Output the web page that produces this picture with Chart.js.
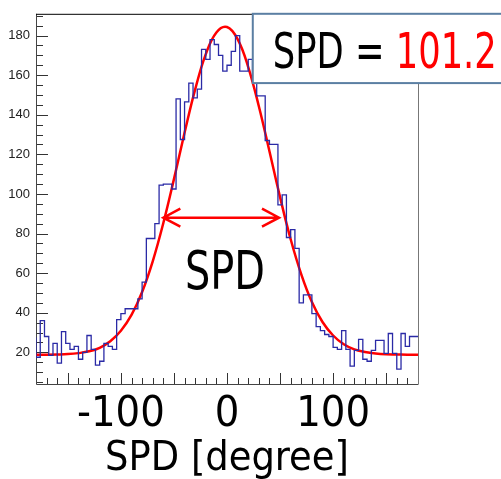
<!DOCTYPE html>
<html>
<head>
<meta charset="utf-8">
<script src="https://cdn.jsdelivr.net/npm/chart.js@4.4.1/dist/chart.umd.min.js"></script>
<style>
  html, body { margin: 0; padding: 0; background: #fff; }
  #wrap { width: 501px; height: 479px; position: relative; }
</style>
</head>
<body>
<div id="wrap"><canvas id="spd"></canvas></div>
<script>
// histogram: 90 bins of 4 degrees from -180 to 180
const binLow = -180;
const binWidth = 4;
const counts = [
  27.5, 17.5, 36, 28, 18.5, 24.5, 14.5, 30.5, 24.5, 21.5,
  23, 16.5, 20, 28.5, 21.5, 13.5, 15.5, 24.5, 23, 21.5,
  36.5, 39.5, 42, 42, 42, 47, 55.5, 77.5, 77.5, 85,
  104.5, 105, 105, 102.5, 148, 127.5, 146.5, 156, 148.5, 153,
  173, 168, 178, 175.5, 170, 162, 165, 172, 180, 162,
  162, 168, 157, 149.5, 149.5, 127, 125, 125, 94.5, 99.5,
  78, 82, 72.5, 45, 49, 49, 39.5, 33, 31, 29,
  28, 22.5, 21.5, 31, 21.5, 13, 21, 26.5, 16.5, 15.5,
  21, 26, 26, 19.5, 29.5, 19.5, 11.5, 29.5, 23, 28
];

// gaussian fit
const fitX = [-180, -170, -160, -150, -140, -130, -120, -110, -100, -90,
  -80, -70, -60, -50, -40, -30, -20, -10, 0, 10,
  20, 30, 40, 50, 60, 70, 80, 90, 100, 110,
  120, 130, 140, 150, 160, 170, 180];
const fitY = [18.8, 18.8, 18.9, 19.1, 19.6, 20.5, 22.3, 25.6, 30.9, 38.9,
  50.5, 66, 85.3, 107.5, 130.9, 152.8, 170.6, 181.6, 184.3, 178.2,
  164.1, 144.3, 121.6, 98.4, 77.1, 59.4, 45.4, 35.3, 28.5, 24.1,
  21.5, 20.2, 19.4, 19, 18.9, 18.8, 18.8];

const xMajorTicks = [-150, -100, -50, 0, 50, 100, 150];
const xLabelTicks = [-100, 0, 100];
const yMajorTicks = [20, 40, 60, 80, 100, 120, 140, 160, 180];

const spdText = 'SPD = ';
const spdValue = '101.2';
const arrowLevel = 88;
const arrowFrom = -60;
const arrowTo = 49;

const narrow = "'Liberation Sans Narrow', 'DejaVu Sans Condensed', 'Roboto Condensed', sans-serif";

const histPoints = counts.map((c, i) => ({ x: binLow + i * binWidth, y: c }));
histPoints.push({ x: binLow + counts.length * binWidth, y: counts[counts.length - 1] });
const fitPoints = fitX.map((x, i) => ({ x: x, y: fitY[i] }));

// squeezed text, the original uses a condensed gothic face
function narrowText(ctx, text, x, y, sx) {
  ctx.save();
  ctx.translate(x, y);
  ctx.scale(sx, 1);
  ctx.fillText(text, 0, 0);
  ctx.restore();
}

// ROOT style frame with ticks pointing inward
const frameTicks = {
  id: 'frameTicks',
  beforeDatasetsDraw(chart) {
    const { ctx, chartArea: a, scales: { x, y } } = chart;
    ctx.save();
    ctx.lineWidth = 1;
    ctx.strokeStyle = '#333';
    for (let v = -170; v <= 170; v += 10) {
      const px = Math.round(x.getPixelForValue(v)) + 0.5;
      const len = xMajorTicks.includes(v) ? 11 : 6;
      ctx.beginPath();
      ctx.moveTo(px, a.bottom);
      ctx.lineTo(px, a.bottom - len);
      ctx.stroke();
    }
    for (let v = 5; v <= 190; v += 5) {
      const py = Math.round(y.getPixelForValue(v)) + 0.5;
      const len = yMajorTicks.includes(v) ? 12 : 7;
      ctx.beginPath();
      ctx.moveTo(a.left, py);
      ctx.lineTo(a.left + len, py);
      ctx.stroke();
    }
    ctx.strokeStyle = '#444';
    ctx.beginPath();
    ctx.moveTo(a.left + 0.5, a.top);
    ctx.lineTo(a.left + 0.5, a.bottom + 0.5);
    ctx.lineTo(a.right + 0.5, a.bottom + 0.5);
    ctx.stroke();
    ctx.strokeStyle = '#777';
    ctx.beginPath();
    ctx.moveTo(a.right + 0.5, a.top);
    ctx.lineTo(a.right + 0.5, a.bottom);
    ctx.stroke();
    ctx.strokeStyle = '#000';
    ctx.beginPath();
    ctx.moveTo(a.left, a.top + 0.5);
    ctx.lineTo(a.right, a.top + 0.5);
    ctx.stroke();
    ctx.restore();
  },
  afterDatasetsDraw(chart) {
    const { ctx, chartArea: a, scales: { x, y } } = chart;
    ctx.save();
    // width arrow
    const ay = y.getPixelForValue(arrowLevel);
    const x1 = x.getPixelForValue(arrowFrom);
    const x2 = x.getPixelForValue(arrowTo);
    ctx.strokeStyle = '#ff0000';
    ctx.lineWidth = 2.5;
    ctx.beginPath();
    ctx.moveTo(x1, ay); ctx.lineTo(x2, ay);
    ctx.moveTo(x1 + 17, ay - 9); ctx.lineTo(x1, ay); ctx.lineTo(x1 + 17, ay + 9);
    ctx.moveTo(x2 - 17, ay - 9); ctx.lineTo(x2, ay); ctx.lineTo(x2 - 17, ay + 9);
    ctx.stroke();
    // label under the arrow
    ctx.fillStyle = '#000';
    ctx.font = '54px ' + narrow;
    ctx.textAlign = 'left';
    ctx.textBaseline = 'alphabetic';
    const w = ctx.measureText('SPD').width;
    narrowText(ctx, 'SPD', 185, 289, 80 / w);
    // result box
    const bx = x.getPixelForValue(24.3);
    const bt = a.top;
    const bb = y.getPixelForValue(156);
    ctx.fillStyle = '#fff';
    ctx.fillRect(bx, bt, 520 - bx, bb - bt);
    ctx.strokeStyle = '#5b7fa3';
    ctx.lineWidth = 2;
    ctx.strokeRect(bx, bt, 520 - bx, bb - bt);
    ctx.font = '50px ' + narrow;
    const full = ctx.measureText(spdText + spdValue).width;
    const sx = 224 / full;
    const tx = bx + 20;
    const ty = bb - 15;
    ctx.fillStyle = '#000';
    narrowText(ctx, spdText, tx, ty, sx);
    ctx.fillStyle = '#ff0000';
    narrowText(ctx, spdValue, tx + ctx.measureText(spdText).width * sx, ty, sx);
    ctx.restore();
  }
};

new Chart(document.getElementById('spd').getContext('2d'), {
  type: 'line',
  data: {
    datasets: [
      {
        data: histPoints,
        stepped: 'after',
        borderColor: '#2a2aa6',
        borderWidth: 1.3,
        pointRadius: 0,
        fill: false
      },
      {
        data: fitPoints,
        borderColor: '#ff0000',
        borderWidth: 2.5,
        pointRadius: 0,
        tension: 0.4,
        fill: false
      }
    ]
  },
  options: {
    responsive: true,
    maintainAspectRatio: false,
    animation: false,
    layout: { padding: { top: 7, right: 83, left: 0, bottom: 0 } },
    plugins: { legend: { display: false }, tooltip: { enabled: false } },
    scales: {
      x: {
        type: 'linear',
        min: -180,
        max: 180,
        grid: { display: false, drawTicks: false },
        border: { display: false },
        afterBuildTicks: s => { s.ticks = xLabelTicks.map(v => ({ value: v })); },
        afterFit: s => { s.height = 95; },
        ticks: {
          color: '#000',
          padding: 5,
          maxRotation: 0,
          font: { family: narrow, size: 43 }
        },
        title: {
          display: true,
          text: 'SPD [degree]',
          color: '#000',
          padding: { top: 0, bottom: -5 },
          font: { family: narrow, size: 41 }
        }
      },
      y: {
        min: 4,
        max: 191,
        grid: { display: false, drawTicks: false },
        border: { display: false },
        afterBuildTicks: s => { s.ticks = yMajorTicks.map(v => ({ value: v })); },
        afterFit: s => { s.width = 36; },
        ticks: {
          color: '#222',
          padding: 6,
          font: { family: "'Liberation Sans', Arial, sans-serif", size: 13 }
        }
      }
    }
  },
  plugins: [frameTicks]
});
</script>
</body>
</html>
